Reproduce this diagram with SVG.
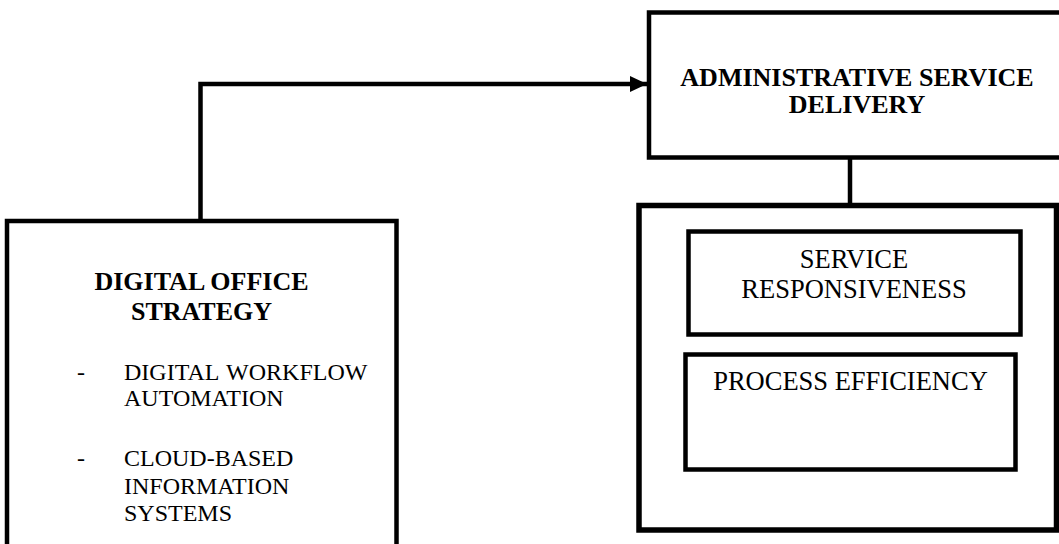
<svg xmlns="http://www.w3.org/2000/svg" width="1059" height="544" viewBox="0 0 1059 544">
<style>
.box{fill:#fff;stroke:#000}
.b{font-family:"Liberation Serif","Times New Roman",serif;font-weight:bold;font-size:26px;fill:#000}
.r{font-family:"Liberation Serif","Times New Roman",serif;font-size:26.5px;fill:#000}
.s{font-family:"Liberation Serif","Times New Roman",serif;font-size:24px;fill:#000}
.c{text-anchor:middle}
.line{fill:none;stroke:#000;stroke-width:4.5}
</style>
<defs>
<marker id="arr" markerUnits="userSpaceOnUse" markerWidth="18" markerHeight="18" viewBox="0 0 18 18" refX="17" refY="9" orient="auto">
<path d="M0,1 L17,9 L0,17 Z" fill="#000"/>
</marker>
</defs>
<rect width="1059" height="544" fill="#fff"/>
<g id="connectors">
<path class="line" d="M200.5,221 V84 H647" marker-end="url(#arr)"/>
<path class="line" d="M850,157 V205"/>
</g>
<g id="node-digital-office">
<rect class="box" x="7" y="221" width="389.5" height="340" stroke-width="4.5"/>
<text class="b c" x="201.5" y="290">DIGITAL OFFICE</text>
<text class="b c" x="201.5" y="320">STRATEGY</text>
<text class="s" x="77" y="380">-</text>
<text class="s" x="124" y="380" word-spacing="2">DIGITAL WORKFLOW</text>
<text class="s" x="124" y="406">AUTOMATION</text>
<text class="s" x="77" y="466">-</text>
<text class="s" x="124" y="466">CLOUD-BASED</text>
<text class="s" x="124" y="494">INFORMATION</text>
<text class="s" x="124" y="521">SYSTEMS</text>
</g>
<g id="node-admin-service">
<rect class="box" x="649" y="12.5" width="430" height="145" stroke-width="4.5"/>
<text class="b c" x="857" y="86">ADMINISTRATIVE SERVICE</text>
<text class="b c" x="857" y="113">DELIVERY</text>
</g>
<g id="node-outcomes">
<rect class="box" x="639" y="205.5" width="417.5" height="324.5" stroke-width="5.5"/>
</g>
<g id="node-service-responsiveness">
<rect class="box" x="688.5" y="231.5" width="332" height="103" stroke-width="4.5"/>
<text class="r c" x="854" y="268">SERVICE</text>
<text class="r c" x="854" y="298">RESPONSIVENESS</text>
</g>
<g id="node-process-efficiency">
<rect class="box" x="685.5" y="354.5" width="330" height="115" stroke-width="4.5"/>
<text class="r c" x="850.5" y="390">PROCESS EFFICIENCY</text>
</g>
</svg>
